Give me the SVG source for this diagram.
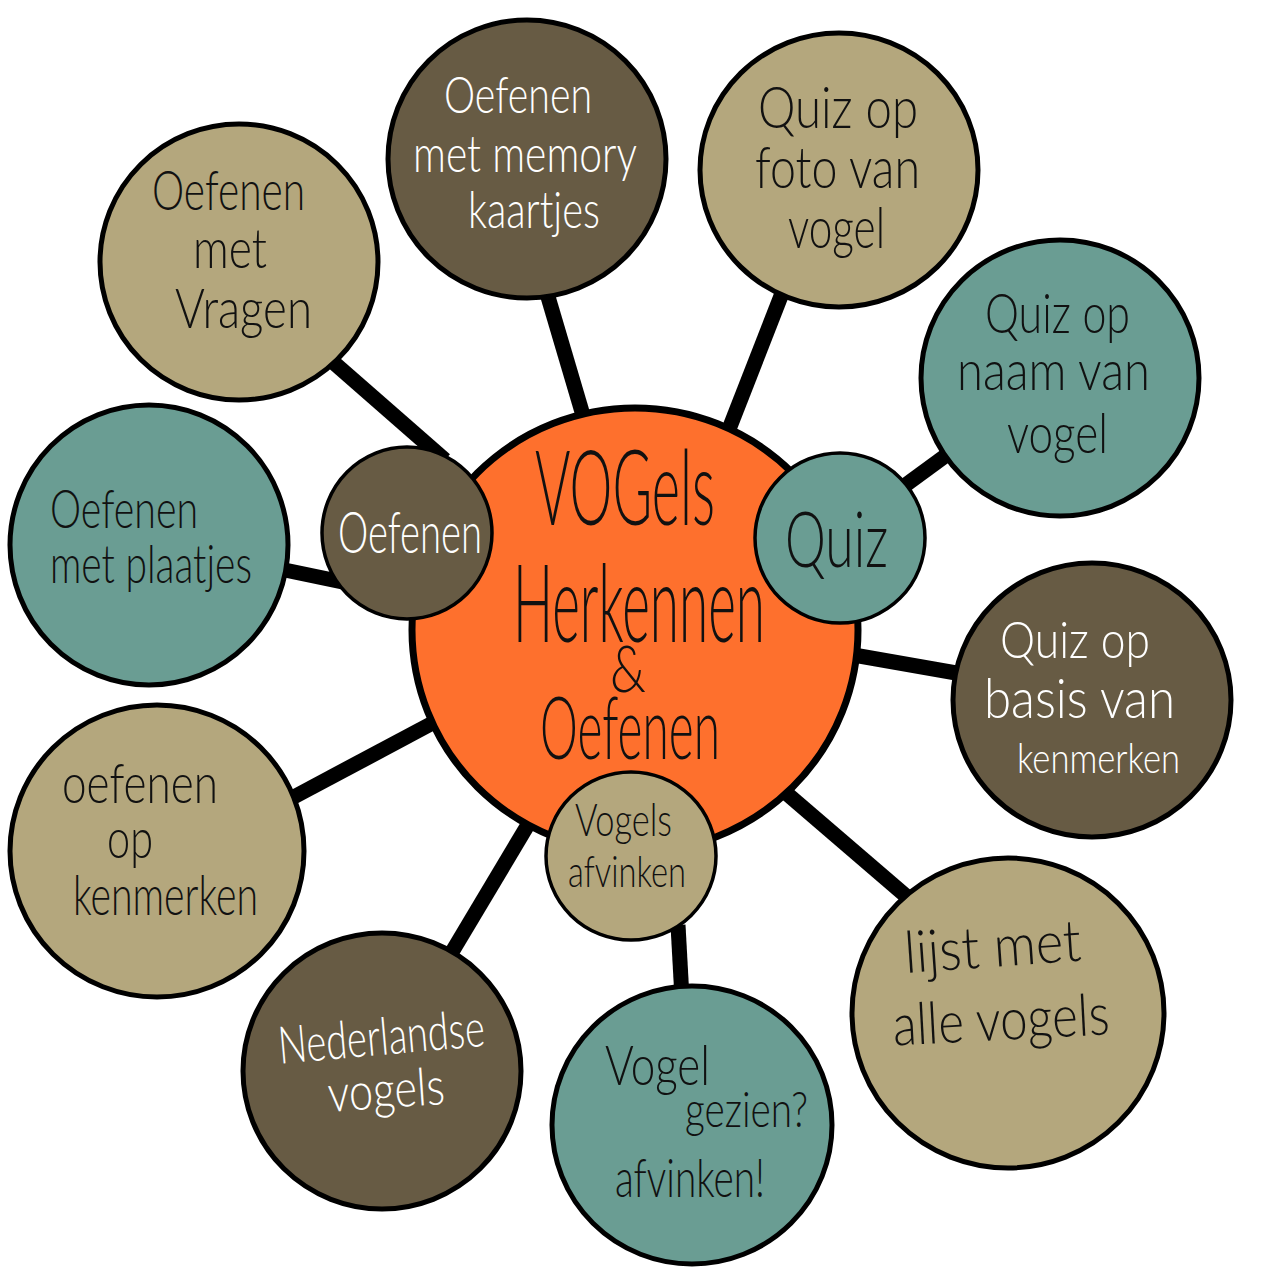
<svg xmlns="http://www.w3.org/2000/svg" width="1280" height="1280" viewBox="0 0 1280 1280">
<style>
.tan{fill:#B4A77D}
.brown{fill:#675B44}
.teal{fill:#6A9D93}
.orange{fill:#FE702D}
.node{stroke:#000;stroke-width:5}
.small{stroke:#000;stroke-width:3.5}
.link{stroke:#000;stroke-width:15;stroke-linecap:butt;fill:none}
text{font-family:Lato,"Liberation Sans",sans-serif;font-weight:300;fill:#111}
.w{fill:#fff}
</style>
<rect width="1280" height="1280" fill="#fff"/>
<g id="connectors" class="link">
<line x1="333" y1="362" x2="445" y2="460"/>
<line x1="280" y1="569" x2="352" y2="584"/>
<line x1="546" y1="290" x2="585" y2="422"/>
<line x1="781" y1="296" x2="724" y2="442"/>
<line x1="896" y1="492" x2="952" y2="451"/>
<line x1="848" y1="654" x2="962" y2="674"/>
<line x1="778" y1="786" x2="906" y2="896"/>
<line x1="678" y1="925" x2="682" y2="998"/>
<line x1="532" y1="818" x2="446" y2="962"/>
<line x1="442" y1="718" x2="290" y2="799"/>
</g>
<g id="n-vragen"><ellipse class="node tan" cx="239" cy="262" rx="139" ry="138"/>
<text x="152" y="210" font-size="56" textLength="153" lengthAdjust="spacingAndGlyphs">Oefenen</text>
<text x="193" y="268" font-size="56" textLength="74" lengthAdjust="spacingAndGlyphs">met</text>
<text x="175" y="328" font-size="56" textLength="137" lengthAdjust="spacingAndGlyphs">Vragen</text></g>
<g id="n-memory"><ellipse class="node brown" cx="527" cy="159" rx="139" ry="139"/>
<text class="w" x="444" y="113" font-size="52" textLength="148" lengthAdjust="spacingAndGlyphs">Oefenen</text>
<text class="w" x="413" y="172" font-size="52" textLength="224" lengthAdjust="spacingAndGlyphs">met memory</text>
<text class="w" x="468" y="228" font-size="52" textLength="132" lengthAdjust="spacingAndGlyphs">kaartjes</text></g>
<g id="n-foto"><ellipse class="node tan" cx="839" cy="170" rx="139" ry="137"/>
<text x="758" y="128" font-size="58" textLength="160" lengthAdjust="spacingAndGlyphs">Quiz op</text>
<text x="755" y="188" font-size="58" textLength="165" lengthAdjust="spacingAndGlyphs">foto van</text>
<text x="788" y="248" font-size="58" textLength="97" lengthAdjust="spacingAndGlyphs">vogel</text></g>
<g id="n-naam"><ellipse class="node teal" cx="1060" cy="378" rx="139" ry="138"/>
<text x="985" y="333" font-size="56" textLength="145" lengthAdjust="spacingAndGlyphs">Quiz op</text>
<text x="957" y="390" font-size="56" textLength="193" lengthAdjust="spacingAndGlyphs">naam van</text>
<text x="1007" y="453" font-size="56" textLength="101" lengthAdjust="spacingAndGlyphs">vogel</text></g>
<g id="n-basis"><ellipse class="node brown" cx="1092" cy="700" rx="139" ry="137"/>
<text class="w" x="1000" y="658" font-size="52" textLength="150" lengthAdjust="spacingAndGlyphs">Quiz op</text>
<text class="w" x="984" y="718" font-size="56" textLength="191" lengthAdjust="spacingAndGlyphs">basis van</text>
<text class="w" x="1017" y="773" font-size="42" textLength="163" lengthAdjust="spacingAndGlyphs">kenmerken</text></g>
<g id="n-lijst"><ellipse class="node tan" cx="1008" cy="1013" rx="156" ry="155"/>
<text x="905" y="967" font-size="58" textLength="177" lengthAdjust="spacingAndGlyphs" transform="rotate(-4 990 960)">lijst met</text>
<text x="893" y="1040" font-size="58" textLength="217" lengthAdjust="spacingAndGlyphs" transform="rotate(-3 1000 1030)">alle vogels</text></g>
<g id="n-gezien"><ellipse class="node teal" cx="692" cy="1125" rx="140" ry="139"/>
<text x="605" y="1085" font-size="56" textLength="105" lengthAdjust="spacingAndGlyphs">Vogel</text>
<text x="685" y="1127" font-size="50" textLength="123" lengthAdjust="spacingAndGlyphs">gezien?</text>
<text x="615" y="1197" font-size="54" textLength="150" lengthAdjust="spacingAndGlyphs">afvinken!</text></g>
<g id="n-nederlandse"><ellipse class="node brown" cx="382" cy="1071" rx="139" ry="138"/>
<text class="w" x="278" y="1055" font-size="52" textLength="207" lengthAdjust="spacingAndGlyphs" transform="rotate(-5 380 1040)">Nederlandse</text>
<text class="w" x="328" y="1108" font-size="52" textLength="117" lengthAdjust="spacingAndGlyphs" transform="rotate(-4 386 1095)">vogels</text></g>
<g id="n-kenmerken"><ellipse class="node tan" cx="157" cy="851" rx="147" ry="146"/>
<text x="62" y="803" font-size="56" textLength="156" lengthAdjust="spacingAndGlyphs">oefenen</text>
<text x="107" y="858" font-size="56" textLength="46" lengthAdjust="spacingAndGlyphs">op</text>
<text x="73" y="915" font-size="56" textLength="185" lengthAdjust="spacingAndGlyphs">kenmerken</text></g>
<g id="n-plaatjes"><ellipse class="node teal" cx="149" cy="545" rx="139" ry="140"/>
<text x="50" y="528" font-size="54" textLength="148" lengthAdjust="spacingAndGlyphs">Oefenen</text>
<text x="50" y="583" font-size="54" textLength="202" lengthAdjust="spacingAndGlyphs">met plaatjes</text></g>
<g id="n-center"><ellipse cx="635" cy="630" rx="223" ry="222" class="orange" stroke="#000" stroke-width="7"/>
<text transform="translate(535 525) scale(1 1.8)" x="0" y="0" font-size="58" textLength="180" lengthAdjust="spacingAndGlyphs">VOGels</text>
<text transform="translate(513 642) scale(1 2.1)" x="0" y="0" font-size="52" textLength="252" lengthAdjust="spacingAndGlyphs">Herkennen</text>
<text x="610" y="692" font-size="66" textLength="36" lengthAdjust="spacingAndGlyphs">&amp;</text>
<text transform="translate(540 759) scale(1 1.8)" x="0" y="0" font-size="48" textLength="180" lengthAdjust="spacingAndGlyphs">Oefenen</text></g>
<g id="n-oefenen"><ellipse class="small brown" cx="407" cy="533" rx="85" ry="86"/>
<text class="w" x="338" y="553" font-size="58" textLength="144" lengthAdjust="spacingAndGlyphs">Oefenen</text></g>
<g id="n-quiz"><ellipse class="small teal" cx="840" cy="538" rx="85" ry="85"/>
<text x="785" y="567" font-size="76" textLength="103" lengthAdjust="spacingAndGlyphs">Quiz</text></g>
<g id="n-afvinken"><ellipse class="small tan" cx="631" cy="856" rx="85" ry="84"/>
<text x="575" y="836" font-size="46" textLength="97" lengthAdjust="spacingAndGlyphs">Vogels</text>
<text x="568" y="887" font-size="44" textLength="118" lengthAdjust="spacingAndGlyphs">afvinken</text></g>
</svg>
